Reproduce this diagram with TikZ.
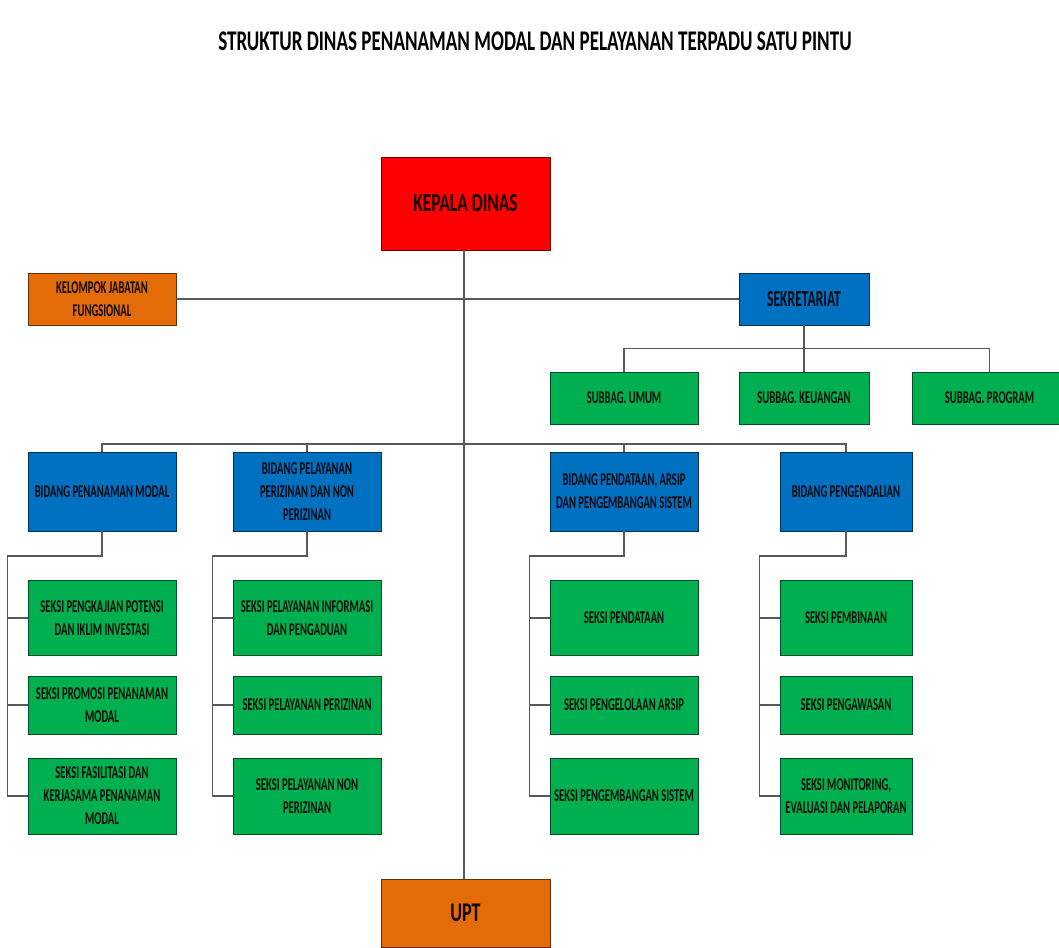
\documentclass[tikz,border=0pt]{standalone}
\usepackage{fontspec}
\setmainfont{Carlito}[FakeStretch=0.59]
\newfontfamily\widefont{Carlito}[FakeStretch=0.67]
\usetikzlibrary{positioning,calc}
\definecolor{kadisColor}{HTML}{FF0000}
\definecolor{uptColor}{HTML}{E36C09}
\definecolor{bidColor}{HTML}{0070C0}
\definecolor{sekColor}{HTML}{00B050}
\definecolor{lineColor}{HTML}{595959}
\tikzset{
	unit/.style={draw=#1!45!black, fill=#1, line width=1pt, outer sep=0,
		inner sep=1pt, align=center, text=#1!8!black,
		font=\bfseries\fontsize{18}{23}\selectfont},
	conn/.style={draw=lineColor, line width=1.4pt}
}

\begin{document}
\begin{tikzpicture}[x=1pt,y=-1pt]
	\clip (0,0) rectangle (1059,947);
	\fill[white] (0,0) rectangle (1059,947);
	\node[font=\widefont\bfseries\fontsize{28.5}{32}\selectfont] (judul) at (535,41)
		{STRUKTUR DINAS PENANAMAN MODAL DAN PELAYANAN TERPADU SATU PINTU};

	% pimpinan
	\node[unit=kadisColor, minimum width=169, minimum height=93,
		font=\widefont\bfseries\fontsize{26}{30}\selectfont] (kadis) at (465.5,203.5) {KEPALA DINAS};
	\node[unit=uptColor, minimum width=169, minimum height=68,
		font=\widefont\bfseries\fontsize{27}{30}\selectfont] (upt) at (465.5,913) {UPT};
	\node[unit=uptColor, minimum width=148, minimum height=52] (kjf) at (102,299)
		{KELOMPOK JABATAN\\FUNGSIONAL};
	\node[unit=bidColor, minimum width=130, minimum height=52,
		font=\bfseries\fontsize{23}{26}\selectfont] (sekre) at (804,299) {SEKRETARIAT};

	% subbagian
	\node[unit=sekColor, minimum width=148, minimum height=52] (umum) at (624,398) {SUBBAG. UMUM};
	\node[unit=sekColor, minimum width=130, minimum height=52] (keuangan) at (804,398) {SUBBAG. KEUANGAN};
	\node[unit=sekColor, minimum width=155, minimum height=52] (program) at (989.5,398) {SUBBAG. PROGRAM};

	% bidang
	\node[unit=bidColor, minimum width=148, minimum height=79] (bid1) at (102,491.5)
		{BIDANG PENANAMAN MODAL};
	\node[unit=bidColor, minimum width=148, minimum height=79] (bid2) at (307,491.5)
		{BIDANG PELAYANAN\\PERIZINAN DAN NON\\PERIZINAN};
	\node[unit=bidColor, minimum width=148, minimum height=79] (bid3) at (624,491.5)
		{BIDANG PENDATAAN, ARSIP\\DAN PENGEMBANGAN SISTEM};
	\node[unit=bidColor, minimum width=132, minimum height=79] (bid4) at (846,491.5)
		{BIDANG PENGENDALIAN};

	% seksi
	\node[unit=sekColor, minimum width=148, minimum height=75] (sek11) at (102,618)
		{SEKSI PENGKAJIAN POTENSI\\DAN IKLIM INVESTASI};
	\node[unit=sekColor, minimum width=148, minimum height=58] (sek12) at (102,705)
		{SEKSI PROMOSI PENANAMAN\\MODAL};
	\node[unit=sekColor, minimum width=148, minimum height=76] (sek13) at (102,796)
		{SEKSI FASILITASI DAN\\KERJASAMA PENANAMAN\\MODAL};
	\node[unit=sekColor, minimum width=148, minimum height=75] (sek21) at (307,618)
		{SEKSI PELAYANAN INFORMASI\\DAN PENGADUAN};
	\node[unit=sekColor, minimum width=148, minimum height=58] (sek22) at (307,705)
		{SEKSI PELAYANAN PERIZINAN};
	\node[unit=sekColor, minimum width=148, minimum height=76] (sek23) at (307,796)
		{SEKSI PELAYANAN NON\\PERIZINAN};
	\node[unit=sekColor, minimum width=148, minimum height=75] (sek31) at (624,618)
		{SEKSI PENDATAAN};
	\node[unit=sekColor, minimum width=148, minimum height=58] (sek32) at (624,705)
		{SEKSI PENGELOLAAN ARSIP};
	\node[unit=sekColor, minimum width=148, minimum height=76] (sek33) at (624,796)
		{SEKSI PENGEMBANGAN SISTEM};
	\node[unit=sekColor, minimum width=132, minimum height=75] (sek41) at (846,618)
		{SEKSI PEMBINAAN};
	\node[unit=sekColor, minimum width=132, minimum height=58] (sek42) at (846,705)
		{SEKSI PENGAWASAN};
	\node[unit=sekColor, minimum width=132, minimum height=76] (sek43) at (846,796)
		{SEKSI MONITORING,\\EVALUASI DAN PELAPORAN};

	% garis komando
	\draw[conn] ([xshift=-1.5pt]kadis.south) -- ([xshift=-1.5pt]upt.north);
	\draw[conn] (kjf) -- (sekre);
	\draw[conn] (sekre.south) -- ++(0,23.5) coordinate (subbus);
	\draw[conn] (umum.north) |- (subbus) -| (program.north);
	\draw[conn] (subbus) -- (keuangan.north);
	\coordinate (bidbus) at (464,444);
	\draw[conn] (bid1.north) |- (bidbus) -| (bid4.north);
	\draw[conn] (bid2.north) -- (bid2.north |- bidbus);
	\draw[conn] (bid3.north) -- (bid3.north |- bidbus);
	\foreach \b in {1,2,3,4}{
		\draw[conn] (bid\b.south) -- ++(0,25) -| ([xshift=-20.5pt]sek\b3.west) -- (sek\b3.west);
		\draw[conn] ([xshift=-20.5pt]sek\b1.west) -- (sek\b1.west);
		\draw[conn] ([xshift=-20.5pt]sek\b2.west) -- (sek\b2.west);
	}
\end{tikzpicture}
\end{document}
